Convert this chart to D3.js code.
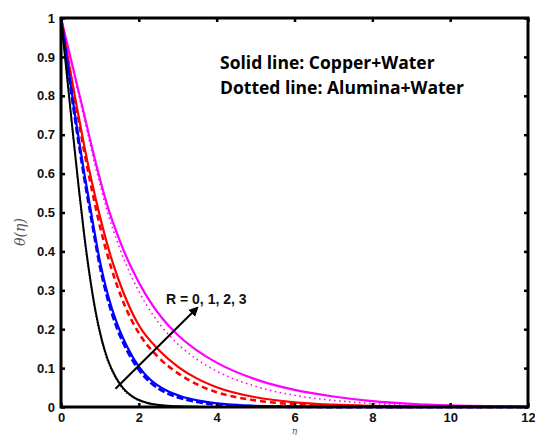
<!DOCTYPE html>
<html>
<head>
<meta charset="utf-8">
<script src="https://cdn.jsdelivr.net/npm/d3@7"></script>
<style>
  html, body { margin: 0; padding: 0; background: #fff; }
  svg { display: block; }
</style>
</head>
<body>
<svg id="chart" width="535" height="435"></svg>
<script>
// ---- data (eta, theta) ----
const xTicks = [0, 2, 4, 6, 8, 10, 12];
const yTicks = [0, 0.1, 0.2, 0.3, 0.4, 0.5, 0.6, 0.7, 0.8, 0.9, 1];
const yTickLabels = ["0", "0.1", "0.2", "0.3", "0.4", "0.5", "0.6", "0.7", "0.8", "0.9", "1"];

const cuR0 = [[0,1],[0.15,0.855],[0.3,0.71],[0.45,0.57],[0.6,0.44],[0.75,0.33],[0.9,0.24],[1.05,0.172],[1.2,0.122],[1.4,0.078],[1.6,0.048],[1.85,0.026],[2.2,0.011],[2.6,0.0045],[3.0,0.0018],[3.5,0.0004],[4,0],[12,0]];
const alR0 = [[0,1],[0.15,0.85],[0.3,0.702],[0.45,0.56],[0.6,0.43],[0.75,0.32],[0.9,0.232],[1.05,0.166],[1.2,0.117],[1.4,0.074],[1.6,0.045],[1.85,0.024],[2.2,0.01],[2.6,0.004],[3.0,0.0015],[3.5,0.0003],[4,0],[12,0]];

const cuR1 = [[0,1],[0.2,0.86],[0.4,0.725],[0.6,0.6],[0.8,0.485],[1.0,0.375],[1.2,0.29],[1.45,0.212],[1.7,0.155],[2.0,0.104],[2.3,0.07],[2.7,0.043],[3.1,0.027],[3.5,0.017],[4.4,0.006],[5.5,0.0015],[7,0],[12,0]];
const alR1 = [[0,1],[0.2,0.855],[0.4,0.715],[0.6,0.588],[0.8,0.473],[1.0,0.362],[1.2,0.278],[1.45,0.2],[1.7,0.145],[2.0,0.096],[2.3,0.063],[2.7,0.037],[3.1,0.022],[3.5,0.013],[4.4,0.004],[5.5,0.001],[7,0],[12,0]];

const cuR2 = [[0,1],[0.2,0.885],[0.4,0.775],[0.6,0.67],[0.8,0.575],[1.0,0.49],[1.3,0.38],[1.6,0.295],[2.0,0.21],[2.5,0.148],[3.0,0.104],[3.5,0.073],[4.0,0.051],[5,0.025],[6,0.012],[7,0.006],[8,0.003],[9,0.0012],[10,0.0004],[12,0]];
const alR2 = [[0,1],[0.2,0.88],[0.4,0.765],[0.6,0.655],[0.8,0.555],[1.0,0.465],[1.3,0.355],[1.6,0.27],[2.0,0.19],[2.5,0.128],[3.0,0.087],[3.5,0.058],[4.0,0.038],[5,0.017],[6,0.007],[7,0.003],[8,0.001],[9,0],[12,0]];

const cuR3 = [[0,1],[0.3,0.875],[0.6,0.75],[0.9,0.625],[1.2,0.515],[1.5,0.43],[1.8,0.36],[2.2,0.285],[2.6,0.228],[3.0,0.185],[3.5,0.145],[4.0,0.114],[5,0.071],[6,0.044],[7,0.027],[8,0.015],[9,0.008],[10,0.004],[11,0.002],[12,0.001]];
const alR3 = [[0,1],[0.3,0.87],[0.6,0.74],[0.9,0.612],[1.2,0.5],[1.5,0.41],[1.8,0.338],[2.2,0.262],[2.6,0.205],[3.0,0.162],[3.5,0.122],[4.0,0.092],[5,0.053],[6,0.03],[7,0.017],[8,0.009],[9,0.005],[10,0.002],[12,0]];

const seriesNames = ["Cu R=0","Al R=0","Cu R=1","Al R=1","Cu R=2","Al R=2","Cu R=3","Al R=3"];
const seriesData = [cuR0, alR0, cuR1, alR1, cuR2, alR2, cuR3, alR3];
const seriesColors = ["#000000","#000000","#0000ff","#0000ff","#ff0000","#ff0000","#ff00ff","#ff00ff"];
const seriesDash = [null, "1,2", null, "7,3", null, "6,4", null, "1.5,3.5"];
const seriesWidth = [2, 1.2, 2.2, 2.8, 2.2, 2.6, 2.2, 1.6];

const noteLines = ["Solid line: Copper+Water", "Dotted line: Alumina+Water"];
const arrowLabel = "R = 0, 1, 2, 3";
const arrowFrom = [1.4, 0.047];
const arrowTo = [3.5, 0.255];

// ---- layout ----
const svg = d3.select("#chart");
const L = 61, R = 528, T = 18, B = 407;
const x = d3.scaleLinear().domain([0, 12]).range([L, R]);
const y = d3.scaleLinear().domain([0, 1]).range([B, T]);

const line = d3.line().x(d => x(d[0])).y(d => y(d[1])).curve(d3.curveMonotoneX);

const plot = svg.append("g");
const order = [6,7,4,5,2,3,0,1];
order.forEach(i => {
  plot.append("path")
    .attr("d", line(seriesData[i]))
    .attr("fill", "none")
    .attr("stroke", seriesColors[i])
    .attr("stroke-width", seriesWidth[i])
    .attr("stroke-dasharray", seriesDash[i])
    .attr("stroke-linejoin", "round");
});

// ---- axes ----
const tickFont = "Liberation Sans, Arial, sans-serif";
const xAxisB = d3.axisBottom(x).tickValues(xTicks).tickSizeInner(-4).tickSizeOuter(0).tickPadding(6);
const xAxisT = d3.axisTop(x).tickValues(xTicks).tickSizeInner(-4).tickSizeOuter(0).tickFormat("");
const yAxisL = d3.axisLeft(y).tickValues(yTicks).tickSizeInner(-4).tickSizeOuter(0).tickPadding(6)
  .tickFormat((d, i) => yTickLabels[i]);
const yAxisR = d3.axisRight(y).tickValues(yTicks).tickSizeInner(-4).tickSizeOuter(0).tickFormat("");

function styleAxis(g) {
  g.select(".domain").remove();
  g.selectAll(".tick line").attr("stroke", "#000").attr("stroke-width", 2.5);
  g.selectAll(".tick text").attr("font-family", tickFont).attr("font-weight", "bold")
    .attr("font-size", 13).attr("fill", "#111");
}
svg.append("g").attr("transform", `translate(0,${B})`).call(xAxisB).call(styleAxis);
svg.append("g").attr("transform", `translate(0,${T})`).call(xAxisT).call(styleAxis);
svg.append("g").attr("transform", `translate(${L},0)`).call(yAxisL).call(styleAxis);
svg.append("g").attr("transform", `translate(${R},0)`).call(yAxisR).call(styleAxis);

// frame
svg.append("rect").attr("x", L).attr("y", T).attr("width", R - L).attr("height", B - T)
  .attr("fill", "none").attr("stroke", "#000").attr("stroke-width", 3);

// axis titles
svg.append("text").attr("x", (L + R) / 2).attr("y", 434)
  .attr("text-anchor", "middle").attr("font-family", "DejaVu Serif, serif").attr("font-style", "italic")
  .attr("font-size", 9).attr("fill", "#555").text("η");
svg.append("text").attr("transform", "translate(25,232) rotate(-90)")
  .attr("text-anchor", "middle").attr("font-family", "DejaVu Serif, serif").attr("font-style", "italic")
  .attr("font-size", 14).attr("fill", "#555").text("θ(η)");

// notes
noteLines.forEach((t, i) => {
  svg.append("text").attr("x", 220).attr("y", 69 + i * 25)
    .attr("font-family", "Open Sans, sans-serif").attr("font-weight", "bold")
    .attr("font-size", 17.5).attr("fill", "#000").text(t);
});

// arrow
const defs = svg.append("defs");
defs.append("marker").attr("id", "ah").attr("viewBox", "0 0 10 10").attr("refX", 8).attr("refY", 5)
  .attr("markerWidth", 5).attr("markerHeight", 5).attr("orient", "auto")
  .append("path").attr("d", "M0,0 L10,5 L0,10 z").attr("fill", "#000");
svg.append("line")
  .attr("x1", x(arrowFrom[0])).attr("y1", y(arrowFrom[1]))
  .attr("x2", x(arrowTo[0])).attr("y2", y(arrowTo[1]))
  .attr("stroke", "#000").attr("stroke-width", 2).attr("marker-end", "url(#ah)");
svg.append("text").attr("x", 166).attr("y", 304)
  .attr("font-family", tickFont).attr("font-weight", "bold").attr("font-size", 14)
  .attr("fill", "#111").text(arrowLabel);
</script>
</body>
</html>
